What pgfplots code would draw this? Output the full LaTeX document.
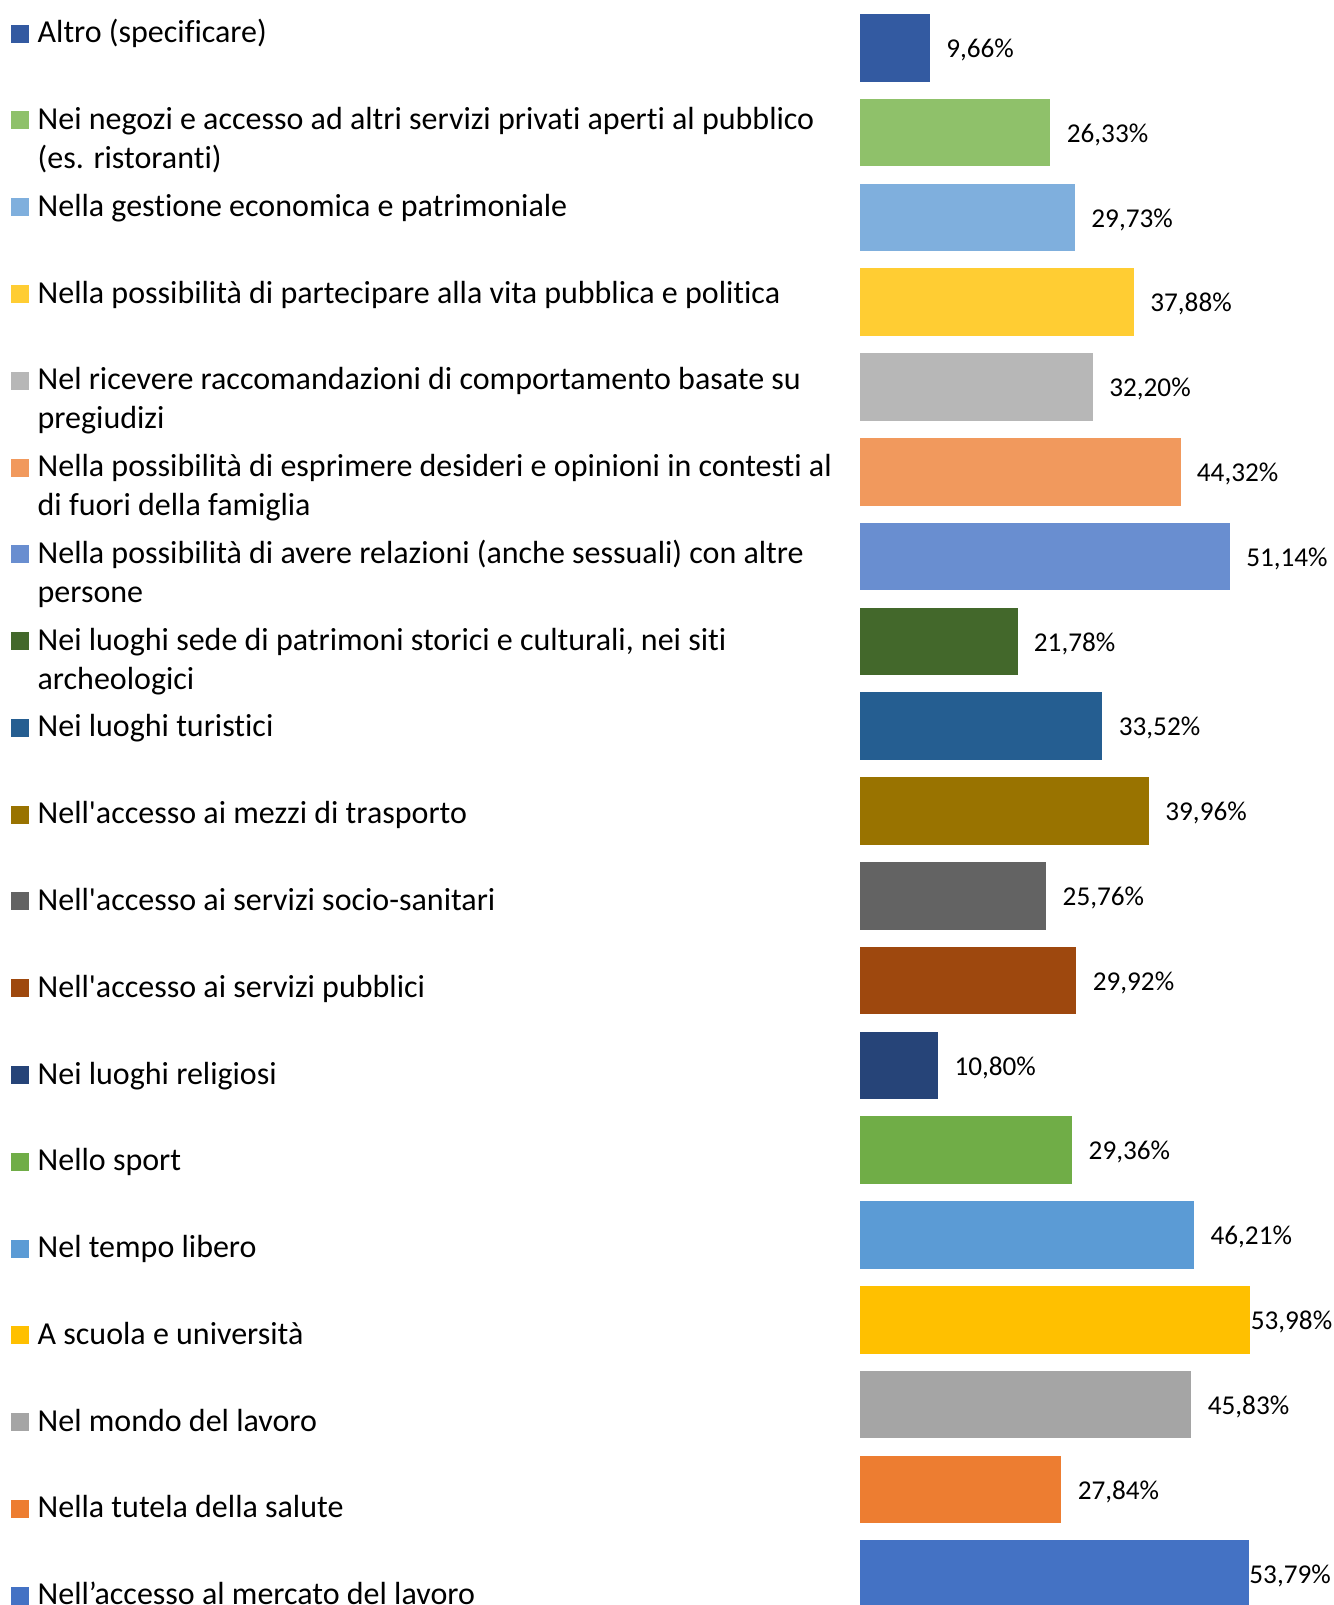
\documentclass[border=0pt]{standalone}
\usepackage{fontspec}
\setmainfont{Carlito}[Ligatures={TeX,NoCommon}]
\usepackage{pgfplots}
\pgfplotsset{compat=1.18}

\definecolor{c19}{RGB}{51,90,161}
\definecolor{c18}{RGB}{143,193,106}
\definecolor{c17}{RGB}{127,175,221}
\definecolor{c16}{RGB}{255,205,51}
\definecolor{c15}{RGB}{183,183,183}
\definecolor{c14}{RGB}{241,153,93}
\definecolor{c13}{RGB}{105,142,208}
\definecolor{c12}{RGB}{67,104,43}
\definecolor{c11}{RGB}{37,94,145}
\definecolor{c10}{RGB}{153,115,0}
\definecolor{c09}{RGB}{99,99,99}
\definecolor{c08}{RGB}{158,72,14}
\definecolor{c07}{RGB}{38,68,120}
\definecolor{c06}{RGB}{112,173,71}
\definecolor{c05}{RGB}{91,155,213}
\definecolor{c04}{RGB}{255,192,0}
\definecolor{c03}{RGB}{165,165,165}
\definecolor{c02}{RGB}{237,125,49}
\definecolor{c01}{RGB}{68,114,196}

% legend text hangs from its first baseline
\newcommand{\lgd}[1]{\parbox[t]{440pt}{\raggedright #1}}

\begin{document}
\begin{tikzpicture}
\path[use as bounding box, clip] (0,0) rectangle (666.5pt,802.5pt);
\begin{axis}[
    at={(430pt,-5.825pt)}, anchor=south west,
    scale only axis, width=236.5pt, height=805.6pt,
    xmin=0, xmax=65.40, ymin=0.5, ymax=19.5,
    hide axis, clip=false,
    xbar, bar width=33.85pt, bar shift=0pt,
    point meta=x,
    /pgf/number format/assume math mode=true,
    nodes near coords={\pgfmathprintnumber[fixed,fixed zerofill,precision=2,use comma]{\pgfplotspointmeta}\%},
    every node near coord/.append style={font=\fontsize{13.6}{16}\selectfont,
      anchor=base west, inner sep=0pt, xshift=8pt, yshift=-4.8pt},
    every axis plot/.append style={draw=none,
      legend image code/.code={\fill[##1] (0pt,0pt) rectangle (9pt,9pt);}},
    legend style={at={(axis description cs:-1.795,0.99302)}, anchor=north west,
      draw=none, fill=none, inner sep=0pt, outer sep=0pt,
      row sep=0pt, column sep=4.35pt,
      nodes={inner sep=0pt, outer sep=0pt, text height=13pt, text depth=30.39pt},
      cells={anchor=base west},
      font=\fontsize{16}{19.5}\selectfont},
  ]
  \addplot[fill=c19] coordinates {(9.66,19)};
  \addlegendentry{\lgd{Altro (specificare)}}
  \addplot[fill=c18] coordinates {(26.33,18)};
  \addlegendentry{\lgd{Nei negozi e accesso ad altri servizi privati aperti al pubblico\\(es. ristoranti)}}
  \addplot[fill=c17] coordinates {(29.73,17)};
  \addlegendentry{\lgd{Nella gestione economica e patrimoniale}}
  \addplot[fill=c16] coordinates {(37.88,16)};
  \addlegendentry{\lgd{Nella possibilità di partecipare alla vita pubblica e politica}}
  \addplot[fill=c15] coordinates {(32.20,15)};
  \addlegendentry{\lgd{Nel ricevere raccomandazioni di comportamento basate su\\pregiudizi}}
  \addplot[fill=c14] coordinates {(44.32,14)};
  \addlegendentry{\lgd{Nella possibilità di esprimere desideri e opinioni in contesti al\\di fuori della famiglia}}
  \addplot[fill=c13] coordinates {(51.14,13)};
  \addlegendentry{\lgd{Nella possibilità di avere relazioni (anche sessuali) con altre\\persone}}
  \addplot[fill=c12] coordinates {(21.78,12)};
  \addlegendentry{\lgd{Nei luoghi sede di patrimoni storici e culturali, nei siti\\archeologici}}
  \addplot[fill=c11] coordinates {(33.52,11)};
  \addlegendentry{\lgd{Nei luoghi turistici}}
  \addplot[fill=c10] coordinates {(39.96,10)};
  \addlegendentry{\lgd{Nell\textquotesingle accesso ai mezzi di trasporto}}
  \addplot[fill=c09] coordinates {(25.76,9)};
  \addlegendentry{\lgd{Nell\textquotesingle accesso ai servizi socio-sanitari}}
  \addplot[fill=c08] coordinates {(29.92,8)};
  \addlegendentry{\lgd{Nell\textquotesingle accesso ai servizi pubblici}}
  \addplot[fill=c07] coordinates {(10.80,7)};
  \addlegendentry{\lgd{Nei luoghi religiosi}}
  \addplot[fill=c06] coordinates {(29.36,6)};
  \addlegendentry{\lgd{Nello sport}}
  \addplot[fill=c05] coordinates {(46.21,5)};
  \addlegendentry{\lgd{Nel tempo libero}}
  \addplot[fill=c04, every node near coord/.append style={xshift=-8pt}] coordinates {(53.98,4)};
  \addlegendentry{\lgd{A scuola e università}}
  \addplot[fill=c03] coordinates {(45.83,3)};
  \addlegendentry{\lgd{Nel mondo del lavoro}}
  \addplot[fill=c02] coordinates {(27.84,2)};
  \addlegendentry{\lgd{Nella tutela della salute}}
  \addplot[fill=c01, every node near coord/.append style={xshift=-8pt}] coordinates {(53.79,1)};
  \addlegendentry{\lgd{Nell’accesso al mercato del lavoro}}
\end{axis}
\end{tikzpicture}
\end{document}
